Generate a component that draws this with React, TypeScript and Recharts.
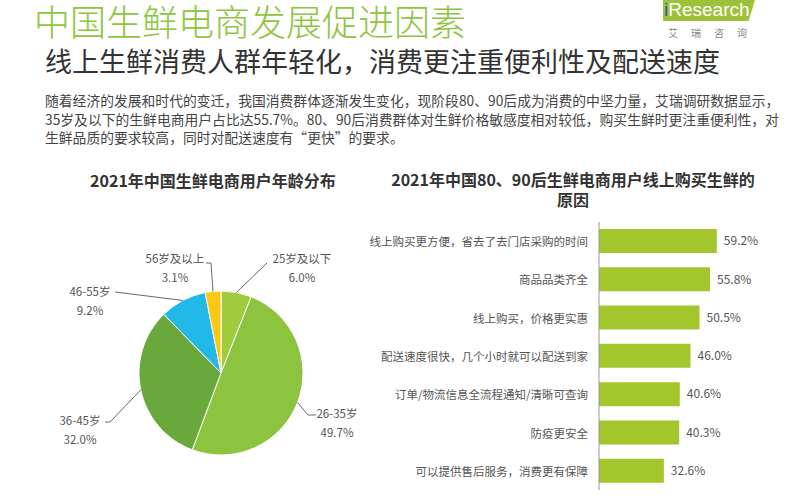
import React from "react";
import {
  PieChart,
  Pie,
  Cell,
  BarChart,
  Bar,
  XAxis,
  YAxis,
  LabelList,
} from "recharts";

const FONT = '"Noto Sans CJK SC", "Noto Sans", sans-serif';

// left pie: age distribution
const AGE_GROUPS = ["25岁及以下", "26-35岁", "36-45岁", "46-55岁", "56岁及以上"];
const AGE_SHARES = [6.0, 49.7, 32.0, 9.2, 3.1];
const AGE_COLORS = ["#a0cb3c", "#8cc43f", "#69a93c", "#22b8e8", "#f8c812"];

// right bars: reasons for buying online
const REASONS = [
  "线上购买更方便，省去了去门店采购的时间",
  "商品品类齐全",
  "线上购买，价格更实惠",
  "配送速度很快，几个小时就可以配送到家",
  "订单/物流信息全流程通知/清晰可查询",
  "防疫更安全",
  "可以提供售后服务，消费更有保障",
];
const REASON_SHARES = [59.2, 55.8, 50.5, 46.0, 40.6, 40.3, 32.6];

// label placement for pie callouts, relative to the pie centre
const CALLOUTS = [
  { line: [[46, -110]], text: [81, -115] },
  { line: [[87, 42], [95, 42]], text: [116, 40] },
  { line: [[-111, 49], [-116, 49]], text: [-141, 47] },
  { line: [[-106, -81]], text: [-131, -82] },
  { line: [[-10, -110], [-15, -110]], text: [-46, -115] },
];

const pieData = AGE_GROUPS.map((name, i) => ({ name, value: AGE_SHARES[i] }));
const barData = REASONS.map((name, i) => ({ name, value: REASON_SHARES[i] }));

const RAD = Math.PI / 180;

function PieCallout(props: any) {
  const { cx, cy, midAngle, outerRadius, index } = props;
  const c = CALLOUTS[index];
  const ex = cx + outerRadius * Math.cos(-midAngle * RAD);
  const ey = cy + outerRadius * Math.sin(-midAngle * RAD);
  const pts = [[ex, ey], ...c.line.map(([dx, dy]) => [cx + dx, cy + dy])];
  const tx = cx + c.text[0];
  const ty = cy + c.text[1];
  return (
    <g>
      <polyline
        points={pts.map((p) => p.join(",")).join(" ")}
        fill="none"
        stroke="#666"
        strokeWidth={1}
      />
      <text
        x={tx}
        y={ty}
        textAnchor="middle"
        dominantBaseline="central"
        fill="#555"
        fontSize={11.5}
        fontFamily={FONT}
      >
        {AGE_GROUPS[index]}
      </text>
      <text
        x={tx}
        y={ty + 19}
        textAnchor="middle"
        dominantBaseline="central"
        fill="#555"
        fontSize={11.5}
        fontFamily={FONT}
      >
        {AGE_SHARES[index].toFixed(1)}%
      </text>
    </g>
  );
}

function ReasonTick(props: any) {
  const { x, y, payload } = props;
  return (
    <text
      x={x}
      y={y}
      textAnchor="end"
      dominantBaseline="central"
      fill="#555"
      fontSize={11.5}
      fontFamily={FONT}
    >
      {payload.value}
    </text>
  );
}

export default function App() {
  return (
    <div
      style={{
        position: "absolute",
        left: 0,
        top: 0,
        width: 800,
        height: 500,
        overflow: "hidden",
        background: "#fff",
        fontFamily: FONT,
      }}
    >
      <div
        style={{
          position: "absolute",
          left: 34,
          top: 2,
          fontSize: 36,
          lineHeight: "36px",
          fontWeight: 300,
          color: "#8cc63e",
          whiteSpace: "nowrap",
        }}
      >
        中国生鲜电商发展促进因素
      </div>

      {/* logo */}
      <div
        style={{
          position: "absolute",
          left: 663,
          top: 0,
          width: 92,
          height: 21,
          background: "#9ec13a",
          clipPath: "polygon(0 0, 100% 0, 93% 100%, 0 100%)",
        }}
      />
      <div
        style={{
          position: "absolute",
          left: 664,
          top: 0,
          fontFamily: '"Liberation Sans", Arial, sans-serif',
          fontSize: 19,
          lineHeight: "20px",
          color: "#fff",
          whiteSpace: "nowrap",
        }}
      >
        <span style={{ color: "#1d5f9c" }}>i</span>Research
      </div>
      <div
        style={{
          position: "absolute",
          left: 668,
          top: 26,
          fontSize: 10,
          lineHeight: "14px",
          letterSpacing: 13,
          color: "#888",
          whiteSpace: "nowrap",
        }}
      >
        艾瑞咨询
      </div>

      <div
        style={{
          position: "absolute",
          left: 45,
          top: 46,
          fontSize: 27,
          lineHeight: "30px",
          color: "#333",
          whiteSpace: "nowrap",
        }}
      >
        线上生鲜消费人群年轻化，消费更注重便利性及配送速度
      </div>

      <div
        style={{
          position: "absolute",
          left: 45,
          top: 91,
          fontSize: 13.8,
          lineHeight: "18.5px",
          color: "#444",
          whiteSpace: "nowrap",
        }}
      >
        随着经济的发展和时代的变迁，我国消费群体逐渐发生变化，现阶段80、90后成为消费的中坚力量，艾瑞调研数据显示，
        <br />
        35岁及以下的生鲜电商用户占比达55.7%。80、90后消费群体对生鲜价格敏感度相对较低，购买生鲜时更注重便利性，对
        <br />
        生鲜品质的要求较高，同时对配送速度有“更快”的要求。
      </div>

      <div
        style={{
          position: "absolute",
          left: 13,
          width: 400,
          top: 170,
          fontSize: 16,
          lineHeight: "20px",
          fontWeight: 700,
          color: "#333",
          textAlign: "center",
        }}
      >
        2021年中国生鲜电商用户年龄分布
      </div>

      <div
        style={{
          position: "absolute",
          left: 373,
          width: 400,
          top: 169,
          fontSize: 16,
          lineHeight: "20px",
          fontWeight: 700,
          color: "#333",
          textAlign: "center",
        }}
      >
        2021年中国80、90后生鲜电商用户线上购买生鲜的
        <br />
        原因
      </div>

      <div style={{ position: "absolute", left: 0, top: 218 }}>
        <PieChart width={400} height={280}>
          <Pie
            data={pieData}
            dataKey="value"
            nameKey="name"
            cx={216}
            cy={150}
            outerRadius={82}
            startAngle={90}
            endAngle={-270}
            stroke="#fff"
            strokeWidth={1}
            label={PieCallout}
            labelLine={false}
            isAnimationActive={false}
          >
            {pieData.map((d, i) => (
              <Cell key={d.name} fill={AGE_COLORS[i]} />
            ))}
          </Pie>
        </PieChart>
      </div>

      <div style={{ position: "absolute", left: 360, top: 210 }}>
        <BarChart
          width={440}
          height={290}
          layout="vertical"
          data={barData}
          margin={{ top: 12, right: 2, bottom: 10, left: 0 }}
        >
          <XAxis type="number" domain={[0, 100]} hide />
          <YAxis
            type="category"
            dataKey="name"
            width={239}
            axisLine={{ stroke: "#999" }}
            tickLine={false}
            tickSize={0}
            tickMargin={11}
            tick={<ReasonTick />}
            interval={0}
          />
          <Bar
            dataKey="value"
            fill="#a2c62c"
            barSize={24}
            isAnimationActive={false}
          >
            <LabelList
              dataKey="value"
              position="right"
              offset={7}
              fill="#555"
              fontSize={12}
              fontFamily={FONT}
              formatter={(v: any) => `${Number(v).toFixed(1)}%`}
            />
          </Bar>
        </BarChart>
      </div>
    </div>
  );
}
